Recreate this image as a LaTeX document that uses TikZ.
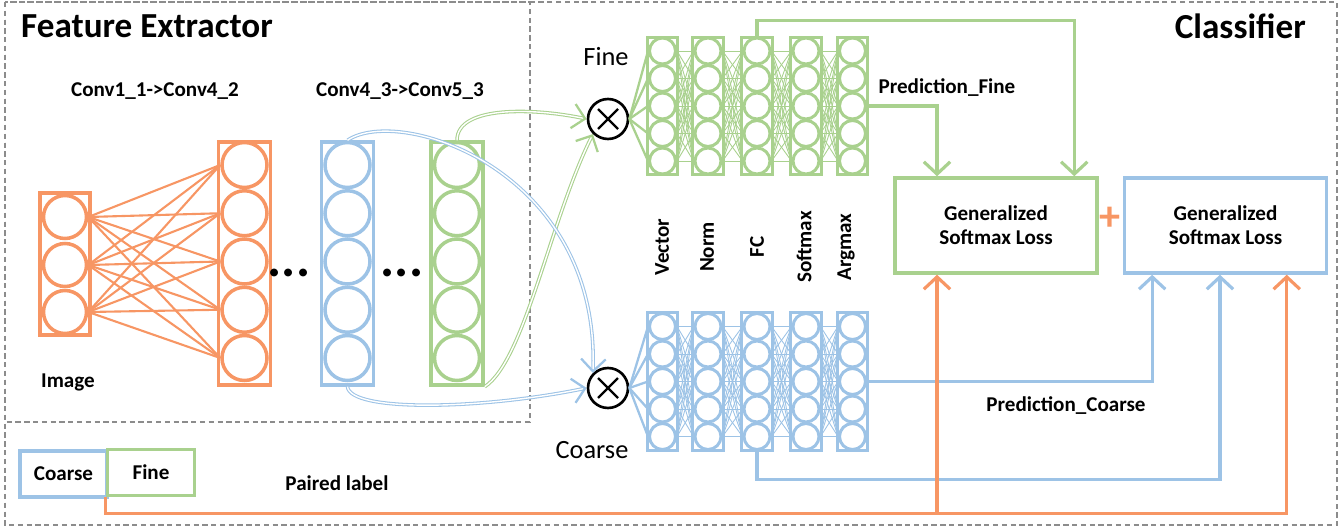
\documentclass[tikz,border=0pt]{standalone}
\usepackage{fontspec}
\setmainfont{Carlito}
\usetikzlibrary{arrows.meta,calc}
\definecolor{orng}{RGB}{247,150,100}
\definecolor{blu}{RGB}{157,195,230}
\definecolor{grn}{RGB}{169,209,142}
\definecolor{framegray}{RGB}{140,140,140}

\begin{document}
\begin{tikzpicture}
  [x=0.02cm,y=-0.02cm,
   frame/.style={draw=framegray,line width=0.6pt,dash pattern=on 3pt off 2pt},
   layer/.style={draw,rectangle,line width=2pt,minimum width=1.04cm,minimum height=4.86cm,inner sep=0pt},
   unit/.style={draw,circle,line width=2pt,minimum size=0.9cm,inner sep=0pt},
   col/.style={draw,rectangle,line width=1.7pt,minimum width=0.61cm,minimum height=2.75cm,inner sep=0pt},
   cell/.style={draw,circle,line width=1.7pt,minimum size=0.52cm,inner sep=0pt},
   mult/.style={draw=black,circle,line width=1.5pt,minimum size=0.8cm,inner sep=0pt,
     path picture={\draw[line width=1.4pt]
       ([shift={(-0.2cm,-0.2cm)}]path picture bounding box.center) -- ([shift={(0.2cm,0.2cm)}]path picture bounding box.center)
       ([shift={(-0.2cm,0.2cm)}]path picture bounding box.center) -- ([shift={(0.2cm,-0.2cm)}]path picture bounding box.center);}},
   lbl/.style={font=\bfseries\fontsize{12}{14}\selectfont},
   big/.style={font=\fontsize{15}{18}\selectfont},
   lossbox/.style={draw,rectangle,line width=2pt,minimum width=4.04cm,minimum height=1.9cm,align=center,
     font=\bfseries\fontsize{12}{13.6}\selectfont},
   tag/.style={draw,rectangle,line width=2pt,minimum width=1.75cm,minimum height=0.92cm,lbl},
   link/.style={line width=1.8pt,-{Straight Barb[length=7pt,width=15pt]}},
   flow/.style={line width=0.6pt,double=white,double distance=0.8pt,
     -{Straight Barb[length=7pt,width=14pt,line width=1.3pt]}}]
  \useasboundingbox (0,0) rectangle (1343,527);
  \draw[frame] (5,2) rectangle (1337,525);
  \draw[frame] (5,2) rectangle (530,422);

  \node[lbl,anchor=base west,font=\bfseries\fontsize{20}{23}\selectfont] (fe) at (15,38) {Feature Extractor};
  \node[lbl,anchor=base east,font=\bfseries\fontsize{20}{23}\selectfont] (cls) at (1312,39) {Classifier};
  \node[lbl] (low) at (155,91) {Conv1\_1->Conv4\_2};
  \node[lbl] (high) at (400,91) {Conv4\_3->Conv5\_3};
  \node[lbl] (imlbl) at (68,382) {Image};

  \node[layer,draw=orng,minimum width=1cm,minimum height=2.84cm] (img) at (65,264) {};
  \foreach \r/\y in {1/217,2/265,3/312}
    \node[unit,draw=orng,minimum size=0.86cm] (img-\r) at (65,\y) {};
  \foreach \l/\cc/\x in {c/orng/244.5,b/blu/347.5,g/grn/457}{
    \node[layer,draw=\cc] (\l) at (\x,263.5) {};
    \foreach \r in {1,...,5}
      \node[unit,draw=\cc] (\l-\r) at (\x,{116.75+48.25*\r}) {};
  }
  \foreach \i in {1,2,3}
    \foreach \j in {1,...,5}
      \draw[orng,line width=1.2pt] (img-\i.east) -- (c-\j.west);
  \node[anchor=base,font=\bfseries\fontsize{30}{30}\selectfont] (dots1) at (289,276) {...};
  \node[anchor=base,font=\bfseries\fontsize{30}{30}\selectfont] (dots2) at (402,276) {...};

  \node[mult] (xf) at (608,119) {};
  \node[mult] (xc) at (608,388) {};
  \node[big] (finelbl) at (606,57) {Fine};
  \node[big] (coarselbl) at (592,450) {Coarse};

  \foreach \c/\x in {1/662.5,2/708,3/757,4/806,5/852.5}{
    \node[col,draw=grn] (f\c) at (\x,106) {};
    \node[col,draw=blu] (k\c) at (\x,381.5) {};
    \foreach \r in {1,...,5}{
      \node[cell,draw=grn] (f\c-\r) at (\x,{23.5+27.5*\r}) {};
      \node[cell,draw=blu] (k\c-\r) at (\x,{299+27.5*\r}) {};
    }
  }
  \foreach \a/\b in {1/2,2/3,3/4,4/5}
    \foreach \i in {1,...,5}
      \foreach \j in {1,...,5}{
        \draw[grn,line width=0.5pt] (f\a-\i.east) -- (f\b-\j.west);
        \draw[blu,line width=0.5pt] (k\a-\i.east) -- (k\b-\j.west);
      }
  \foreach \r in {1,...,5}{
    \draw[grn,line width=1.3pt] (xf.east) -- (f1-\r.west);
    \draw[blu,line width=1.3pt] (xc.east) -- (k1-\r.west);
  }

  \node[lbl,rotate=90] (vec) at (662,247) {Vector};
  \node[lbl,rotate=90] (nrm) at (707,247) {Norm};
  \node[lbl,rotate=90] (fc) at (757,247) {FC};
  \node[lbl,rotate=90] (smx) at (804,247) {Softmax};
  \node[lbl,rotate=90] (amx) at (846,247) {Argmax};

  \node[lossbox,draw=grn] (lf) at (996,225.5) {Generalized\\Softmax Loss};
  \node[lossbox,draw=blu] (lc) at (1225.5,225.5) {Generalized\\Softmax Loss};
  \node[text=orng,font=\bfseries\fontsize{24}{24}\selectfont] (plus) at (1110,219) {+};

  \node[tag,draw=blu] (pc) at (63.5,474) {Coarse};
  \node[tag,draw=grn] (pf) at (151,472.5) {Fine};
  \node[lbl] (paired) at (337,483) {Paired label};
  \node[lbl] (predf) at (947,88) {Prediction\_Fine};
  \node[lbl] (predc) at (1066,406) {Prediction\_Coarse};

  \coordinate (lf-a) at ($(lf.north west)!0.213!(lf.north east)$);
  \coordinate (lf-b) at ($(lf.north west)!0.881!(lf.north east)$);
  \coordinate (lf-c) at ($(lf.south west)!0.213!(lf.south east)$);
  \coordinate (lc-a) at ($(lc.south west)!0.143!(lc.south east)$);
  \coordinate (lc-b) at ($(lc.south west)!0.473!(lc.south east)$);
  \coordinate (lc-c) at ($(lc.south west)!0.798!(lc.south east)$);

  \draw[link,grn] (f5.east |- f5-3.center) -| (lf-a);
  \draw[link,grn] (f3.north) -- ++(0,-15) -| (lf-b);
  \draw[link,blu] (k5.east |- k5-3.center) -| (lc-a);
  \draw[link,blu] (k3.south) -- ++(0,28) -| (lc-b);
  \draw[link,orng] (pf.south west) -- ++(0,16) coordinate (ob) -| (lc-c);
  \draw[link,orng] (ob -| lf-c) -- (lf-c);

  \draw[flow,grn] (g.north) .. controls (457,105) and (535,108) .. (xf.west);
  \draw[flow,grn] (g.south east) .. controls (525,360) and (550,220) .. (xf.south west);
  \draw[flow,blu] (b.north) .. controls (400,105) and (600,170) .. (xc.north west);
  \draw[flow,blu] (b.south) .. controls (350,412) and (480,410) .. (xc.west);
\end{tikzpicture}
\end{document}
